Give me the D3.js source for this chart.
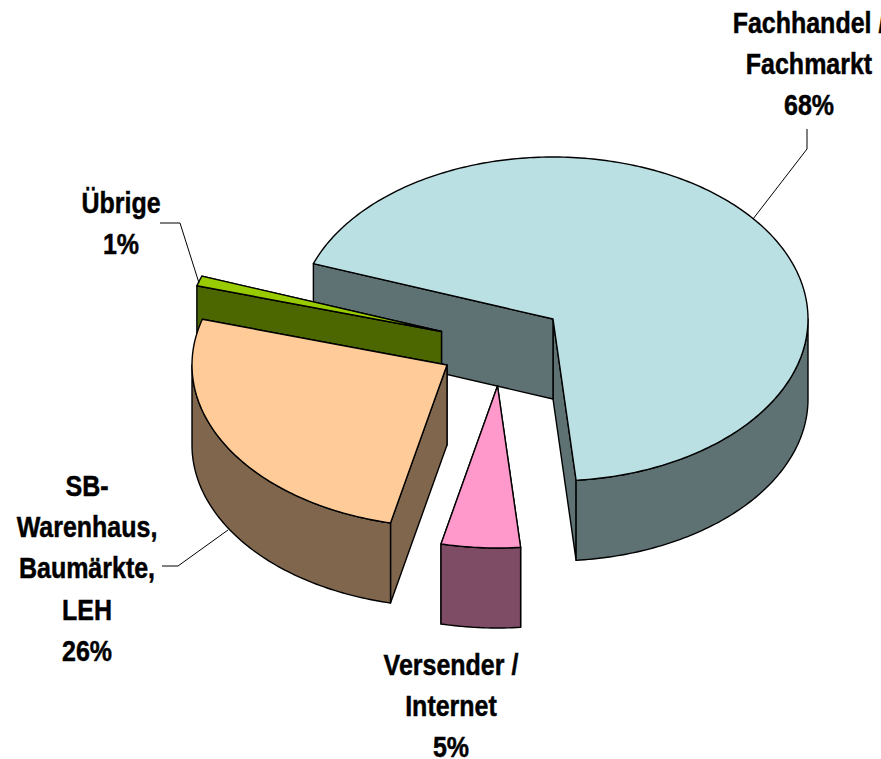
<!DOCTYPE html>
<html>
<head>
<meta charset="utf-8">
<script src="https://d3js.org/d3.v7.min.js"></script>
<style>
  html, body { margin: 0; padding: 0; background: #fff; overflow: hidden; }
  svg { display: block; }
</style>
</head>
<body>
<svg></svg>
<script>
const width = 881;
const height = 759;

// data, clockwise from the back edge of the big slice
const categories = ["Fachhandel / Fachmarkt", "Versender / Internet", "SB-Warenhaus, Baumärkte, LEH", "Übrige"];
const shares = [68, 5, 26, 1];
const labelLines = [
  ["Fachhandel /", "Fachmarkt", "68%"],
  ["Versender /", "Internet", "5%"],
  ["SB-", "Warenhaus,", "Baumärkte,", "LEH", "26%"],
  ["Übrige", "1%"],
];
const topColors = ["#bae0e3", "#ff99cc", "#ffcc99", "#99cc00"];
const wallColors = ["#5e7173", "#7f4c66", "#7f664c", "#4c6600"];

// layout of the fake 3d pie
const cx = 553, cy = 319, rx = 255, ry = 162, depth = 80;
const explode = [[0, 0], [-55.5, 67], [-106, 46], [-111.5, 12.5]];
const labelPos = [[809, 33], [451, 675], [87, 496], [121, 213]];
const lineHeight = 41.25;
const textStretch = 1.16; // the labels are taller than the plain font
const leaders = [
  [[807, 129], [807, 149], [753, 219]],
  [],
  [[162, 566], [178, 566], [228, 530]],
  [[160, 223], [180, 223], [199, 283]],
];

const svg = d3.select("svg").attr("width", width).attr("height", height);

const pie = d3.pie().sort(null)
  .startAngle((-70 * Math.PI) / 180)
  .endAngle((290 * Math.PI) / 180);

const slices = pie(shares).map((d, i) => ({
  ...d,
  i,
  ax: cx + explode[i][0],
  ay: cy + explode[i][1],
}));

const px = (d, a) => d.ax + rx * Math.sin(a);
const py = (d, a) => d.ay - ry * Math.cos(a);

function arcPoints(d, a0, a1, dy) {
  const n = Math.max(2, Math.ceil(Math.abs(a1 - a0) * 60));
  return d3.range(n + 1).map((k) => {
    const a = a0 + ((a1 - a0) * k) / n;
    return [px(d, a), py(d, a) + dy];
  });
}

const line = d3.line();
const shape = (pts) => line(pts) + "Z";

function sidePath(d, a) {
  return shape([
    [d.ax, d.ay],
    [px(d, a), py(d, a)],
    [px(d, a), py(d, a) + depth],
    [d.ax, d.ay + depth],
  ]);
}

// only the front half of the rim is visible
function rimPath(d) {
  const a0 = Math.max(d.startAngle, Math.PI / 2);
  const a1 = Math.min(d.endAngle, (3 * Math.PI) / 2);
  if (a1 <= a0) return null;
  return shape(arcPoints(d, a0, a1, 0).concat(arcPoints(d, a1, a0, depth)));
}

function topPath(d) {
  return shape([[d.ax, d.ay]].concat(arcPoints(d, d.startAngle, d.endAngle, 0)));
}

// back to front: big slice, small pink one, green sliver, orange slice
const drawOrder = [0, 1, 3, 2];

const g = svg.append("g").attr("stroke", "#000").attr("stroke-width", 1.4).attr("stroke-linejoin", "round");

const sliceG = g.selectAll("g")
  .data(drawOrder.map((i) => slices[i]))
  .join("g")
  .attr("class", (d) => "slice-" + d.i);

sliceG.append("title").text((d) => `${categories[d.i]}: ${d.value}%`);

sliceG.append("path").attr("d", (d) => sidePath(d, d.endAngle)).attr("fill", (d) => wallColors[d.i]);
sliceG.append("path").attr("d", (d) => sidePath(d, d.startAngle)).attr("fill", (d) => wallColors[d.i]);
sliceG.filter((d) => rimPath(d) !== null)
  .append("path").attr("d", rimPath).attr("fill", (d) => wallColors[d.i]);
sliceG.append("path").attr("d", topPath).attr("fill", (d) => topColors[d.i]);

// leader lines
svg.append("g")
  .selectAll("path")
  .data(leaders.filter((d) => d.length))
  .join("path")
  .attr("d", (d) => line(d))
  .attr("fill", "none")
  .attr("stroke", "#000")
  .attr("stroke-width", 1);

// labels
const labels = svg.append("g")
  .attr("font-family", "'Liberation Sans', Arial, sans-serif")
  .attr("font-weight", "bold")
  .attr("font-size", 25)
  .attr("text-anchor", "middle")
  .attr("fill", "#000")
  .attr("stroke", "#000")
  .attr("stroke-width", 0.4)
  .selectAll("text")
  .data(labelLines)
  .join("text")
  .attr("transform", (d, i) => `translate(${labelPos[i][0]},${labelPos[i][1]}) scale(1,${textStretch})`);

labels.selectAll("tspan")
  .data((d) => d)
  .join("tspan")
  .attr("x", 0)
  .attr("y", (d, i) => (i * lineHeight) / textStretch)
  .text((d) => d);
</script>
</body>
</html>
